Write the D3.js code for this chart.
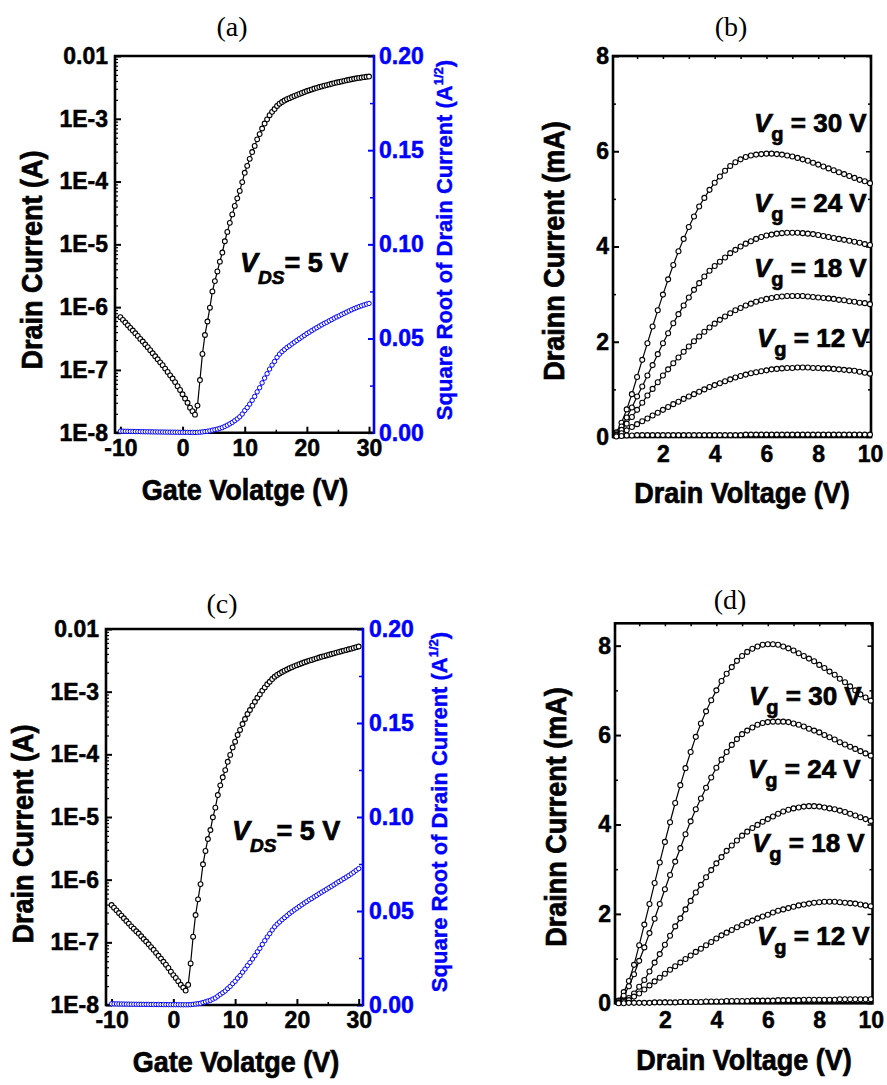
<!DOCTYPE html>
<meta charset="utf-8">
<style>
body { margin: 0; background: #fff; }
text { font-family: "Liberation Sans", Arial, sans-serif; font-weight: bold; white-space: pre; }
.ptitle { font-family: "Liberation Serif", "Times New Roman", serif; font-weight: normal; }
.heavy { stroke: currentColor; stroke-width: 0.7px; }
.tick text { stroke: currentColor; stroke-width: 0.5px; }
</style>
<body>
<script src="https://d3js.org/d3.v7.min.js"></script>
<script>

var width = 887, height = 1085;

// ---- transfer curves (a) and (c): gate sweep, drain current in A ----
var gateV = [-10, -9.6, -9.2, -8.8, -8.4, -8, -7.6, -7.2, -6.8, -6.4, -6, -5.6, -5.2, -4.8, -4.4, -4, -3.6, -3.2, -2.8, -2.4,
  -2, -1.6, -1.2, -0.8, -0.4, 0, 0.4, 0.8, 1.2, 1.6, 2, 2.4, 2.8, 3.2, 3.6, 4, 4.4, 4.8, 5.2, 5.6,
  6, 6.4, 6.8, 7.2, 7.6, 8, 8.4, 8.8, 9.2, 9.6, 10, 10.4, 10.8, 11.2, 11.6, 12, 12.4, 12.8, 13.2, 13.6,
  14, 14.4, 14.8, 15.2, 15.6, 16, 16.4, 16.8, 17.2, 17.6, 18, 18.4, 18.8, 19.2, 19.6, 20, 20.4, 20.8, 21.2, 21.6,
  22, 22.4, 22.8, 23.2, 23.6, 24, 24.4, 24.8, 25.2, 25.6, 26, 26.4, 26.8, 27.2, 27.6, 28, 28.4, 28.8, 29.2, 29.6, 30];

var idA = [6.92e-7, 6.27e-7, 5.68e-7, 5.15e-7, 4.67e-7, 4.24e-7, 3.84e-7, 3.48e-7, 3.12e-7, 2.83e-7,
  2.54e-7, 2.30e-7, 2.06e-7, 1.84e-7, 1.65e-7, 1.48e-7, 1.32e-7, 1.19e-7, 1.05e-7, 9.3e-8,
  8.2e-8, 7.3e-8, 6.4e-8, 5.5e-8, 4.8e-8, 4.1e-8, 3.5e-8, 3.0e-8, 2.5e-8, 2.2e-8, 1.94e-8,
  2.7e-8, 6.9e-8, 1.8e-7, 3.6e-7, 5.9e-7, 9.8e-7, 1.78e-6, 2.6e-6, 3.7e-6, 5.3e-6,
  7.4e-6, 1.12e-5, 1.58e-5, 2.2e-5, 3.0e-5, 4.1e-5, 5.4e-5, 7.1e-5, 9.8e-5, 1.38e-4,
  1.78e-4, 2.3e-4, 2.95e-4, 3.7e-4, 4.7e-4, 5.7e-4, 7.0e-4, 8.4e-4, 9.8e-4, 1.14e-3, 1.29e-3, 1.43e-3,
  1.60e-3, 1.74e-3, 1.85e-3, 1.95e-3, 2.05e-3, 2.13e-3, 2.22e-3, 2.31e-3, 2.40e-3, 2.49e-3,
  2.58e-3, 2.67e-3, 2.77e-3, 2.85e-3, 2.94e-3, 3.03e-3, 3.11e-3, 3.20e-3, 3.28e-3, 3.37e-3,
  3.44e-3, 3.53e-3, 3.61e-3, 3.70e-3, 3.78e-3, 3.85e-3, 3.94e-3, 4.02e-3, 4.10e-3, 4.18e-3,
  4.26e-3, 4.34e-3, 4.41e-3, 4.48e-3, 4.54e-3, 4.60e-3, 4.66e-3, 4.71e-3];

var idC = [3.94e-7, 3.57e-7, 3.24e-7, 2.94e-7, 2.67e-7, 2.42e-7, 2.19e-7, 1.99e-7, 1.80e-7, 1.65e-7,
  1.50e-7, 1.38e-7, 1.25e-7, 1.13e-7, 1.03e-7, 9.3e-8, 8.4e-8, 7.6e-8, 6.8e-8, 6.1e-8,
  5.5e-8, 4.9e-8, 4.4e-8, 3.9e-8, 3.4e-8, 3.0e-8, 2.7e-8, 2.4e-8, 2.1e-8, 1.9e-8, 1.7e-8,
  2.1e-8, 4.6e-8, 1.23e-7, 2.73e-7, 4.85e-7, 8.5e-7, 1.76e-6, 2.87e-6, 4.46e-6, 6.2e-6,
  9.9e-6, 1.41e-5, 2.24e-5, 3.2e-5, 4.3e-5, 5.6e-5, 7.6e-5, 9.8e-5, 1.29e-4, 1.59e-4,
  2.04e-4, 2.45e-4, 3.05e-4, 3.66e-4, 4.4e-4, 5.1e-4, 5.98e-4, 6.9e-4, 8.0e-4, 9.06e-4,
  1.04e-3, 1.17e-3, 1.31e-3, 1.44e-3, 1.59e-3, 1.73e-3,
  1.85e-3, 1.95e-3, 2.06e-3, 2.16e-3, 2.26e-3, 2.37e-3, 2.46e-3, 2.56e-3, 2.65e-3, 2.75e-3,
  2.84e-3, 2.94e-3, 3.03e-3, 3.13e-3, 3.21e-3, 3.31e-3, 3.40e-3, 3.50e-3, 3.60e-3, 3.69e-3,
  3.79e-3, 3.89e-3, 3.99e-3, 4.09e-3, 4.20e-3, 4.31e-3, 4.41e-3, 4.52e-3, 4.63e-3, 4.74e-3,
  4.86e-3, 4.99e-3, 5.13e-3, 5.26e-3];

// ---- output curves (b) and (d): drain sweep, drain current in mA ----
var drainV = [0.2, 0.4, 0.6, 0.8, 1, 1.2, 1.4, 1.6, 1.8, 2, 2.2, 2.4, 2.6, 2.8, 3, 3.2, 3.4, 3.6, 3.8, 4,
  4.2, 4.4, 4.6, 4.8, 5, 5.2, 5.4, 5.6, 5.8, 6, 6.2, 6.4, 6.6, 6.8, 7, 7.2, 7.4, 7.6, 7.8, 8,
  8.2, 8.4, 8.6, 8.8, 9, 9.2, 9.4, 9.6, 9.8, 10];

var idB30 = [0.10, 0.30, 0.58, 0.90, 1.26, 1.62, 1.97, 2.32, 2.66, 2.99, 3.31, 3.61, 3.90, 4.16, 4.41,
  4.63, 4.84, 5.02, 5.19, 5.34, 5.47, 5.59, 5.69, 5.77, 5.83, 5.88, 5.91, 5.93, 5.94, 5.95,
  5.95, 5.94, 5.93, 5.91, 5.89, 5.86, 5.83, 5.80, 5.76, 5.72, 5.68, 5.64, 5.60, 5.56, 5.52,
  5.48, 5.44, 5.40, 5.37, 5.33];
var idB24 = [0.08, 0.22, 0.41, 0.62, 0.85, 1.06, 1.29, 1.51, 1.74, 1.97, 2.18, 2.39, 2.58, 2.76, 2.93,
  3.09, 3.23, 3.37, 3.49, 3.59, 3.68, 3.77, 3.86, 3.93, 4.00, 4.06, 4.11, 4.16, 4.20, 4.23,
  4.25, 4.27, 4.28, 4.29, 4.29, 4.29, 4.28, 4.27, 4.26, 4.24, 4.22, 4.20, 4.18, 4.16, 4.14,
  4.12, 4.10, 4.08, 4.05, 4.03];
var idB18 = [0.05, 0.15, 0.28, 0.42, 0.57, 0.72, 0.87, 1.01, 1.15, 1.29, 1.42, 1.55, 1.67, 1.79, 1.90,
  2.01, 2.11, 2.21, 2.30, 2.38, 2.46, 2.53, 2.60, 2.66, 2.71, 2.76, 2.80, 2.84, 2.87, 2.90,
  2.92, 2.94, 2.95, 2.96, 2.96, 2.96, 2.96, 2.95, 2.94, 2.93, 2.92, 2.91, 2.90, 2.88, 2.87,
  2.85, 2.84, 2.82, 2.81, 2.79];
var idB12 = [0.03, 0.08, 0.14, 0.21, 0.27, 0.33, 0.39, 0.45, 0.51, 0.57, 0.63, 0.69, 0.74, 0.80, 0.85,
  0.90, 0.95, 1.00, 1.05, 1.09, 1.13, 1.17, 1.21, 1.25, 1.28, 1.31, 1.34, 1.36, 1.38, 1.40,
  1.42, 1.43, 1.44, 1.45, 1.45, 1.46, 1.46, 1.46, 1.45, 1.45, 1.44, 1.44, 1.43, 1.42, 1.41,
  1.40, 1.39, 1.37, 1.35, 1.33];
var idBlow = [0.01, 0.02, 0.03, 0.03, 0.04, 0.04, 0.04, 0.04, 0.04, 0.04, 0.04, 0.04, 0.04, 0.04, 0.04,
  0.04, 0.04, 0.04, 0.04, 0.04, 0.04, 0.04, 0.04, 0.04, 0.04, 0.05, 0.05, 0.05, 0.05, 0.05,
  0.05, 0.05, 0.05, 0.05, 0.05, 0.05, 0.05, 0.05, 0.05, 0.05, 0.05, 0.05, 0.05, 0.05, 0.05,
  0.05, 0.05, 0.05, 0.05, 0.05];

var idD30 = [0.06, 0.25, 0.50, 0.86, 1.30, 1.76, 2.22, 2.69, 3.15, 3.61, 4.05, 4.48, 4.88, 5.26, 5.62,
  5.96, 6.26, 6.53, 6.78, 7.00, 7.21, 7.37, 7.52, 7.66, 7.77, 7.86, 7.93, 7.98, 8.02, 8.03,
  8.03, 8.02, 7.98, 7.94, 7.89, 7.83, 7.77, 7.71, 7.65, 7.57, 7.50, 7.42, 7.35, 7.26, 7.18,
  7.09, 7.00, 6.91, 6.84, 6.77];
var idD24 = [0.05, 0.17, 0.38, 0.65, 0.95, 1.25, 1.57, 1.89, 2.22, 2.55, 2.87, 3.17, 3.47, 3.78, 4.07,
  4.34, 4.58, 4.82, 5.05, 5.27, 5.45, 5.62, 5.78, 5.91, 6.02, 6.10, 6.17, 6.23, 6.27, 6.29,
  6.30, 6.30, 6.30, 6.29, 6.26, 6.23, 6.19, 6.14, 6.10, 6.06, 6.00, 5.95, 5.90, 5.84, 5.79,
  5.74, 5.69, 5.64, 5.59, 5.54];
var idD18 = [0.02, 0.06, 0.12, 0.22, 0.37, 0.52, 0.71, 0.91, 1.10, 1.31, 1.51, 1.72, 1.90, 2.10, 2.29,
  2.48, 2.65, 2.82, 2.98, 3.13, 3.27, 3.41, 3.53, 3.64, 3.75, 3.84, 3.92, 3.99, 4.06, 4.12,
  4.18, 4.24, 4.29, 4.33, 4.36, 4.38, 4.40, 4.41, 4.41, 4.40, 4.38, 4.36, 4.34, 4.31, 4.28,
  4.24, 4.20, 4.16, 4.12, 4.08];
var idD12 = [0.01, 0.03, 0.07, 0.15, 0.22, 0.31, 0.40, 0.49, 0.57, 0.66, 0.75, 0.83, 0.91, 0.99, 1.07,
  1.15, 1.22, 1.30, 1.37, 1.45, 1.52, 1.58, 1.64, 1.70, 1.75, 1.81, 1.85, 1.90, 1.94, 1.98,
  2.03, 2.07, 2.10, 2.13, 2.16, 2.19, 2.21, 2.23, 2.25, 2.26, 2.27, 2.27, 2.27, 2.26, 2.25,
  2.24, 2.23, 2.21, 2.19, 2.17];
var idDlow = [0.00, 0.00, 0.01, 0.01, 0.01, 0.01, 0.01, 0.02, 0.02, 0.02, 0.02, 0.02, 0.03, 0.03, 0.03,
  0.03, 0.03, 0.04, 0.04, 0.04, 0.04, 0.05, 0.05, 0.05, 0.05, 0.05, 0.06, 0.06, 0.06, 0.06,
  0.06, 0.07, 0.07, 0.07, 0.07, 0.07, 0.08, 0.08, 0.08, 0.08, 0.08, 0.08, 0.08, 0.09, 0.09,
  0.09, 0.09, 0.09, 0.09, 0.09];

// ticks and labels
var logTicks = [1e-8, 1e-7, 1e-6, 1e-5, 1e-4, 1e-3, 1e-2];
var logTickLabels = ["1E-8", "1E-7", "1E-6", "1E-5", "1E-4", "1E-3", "0.01"];
var sqrtTicks = [0, 0.05, 0.1, 0.15, 0.2];
var sqrtMinor = [0.025, 0.075, 0.125, 0.175];
var sqrtTickLabels = ["0.00", "0.05", "0.10", "0.15", "0.20"];
var gateTicks = [-10, 0, 10, 20, 30];
var gateTickLabels = ["-10", "0", "10", "20", "30"];
var gateMinor = [-5, 5, 15, 25];
var drainTicks = [2, 4, 6, 8, 10];
var drainMinor = [1, 3, 5, 7, 9];
var currentTicks = [0, 2, 4, 6, 8];
var currentMinor = [1, 3, 5, 7];
var vgNames = ["30", "24", "18", "12"];

var BLUE = "#0000ff";
var FONT = '"Liberation Sans", Arial, sans-serif';

var svg = d3.select("body").append("svg")
    .attr("width", width)
    .attr("height", height);

svg.append("rect")
    .attr("width", width)
    .attr("height", height)
    .attr("fill", "#fff");

// squeeze text a bit, the original font is narrower than Arial
function squeeze(sel, k) {
  sel.each(function() {
    var w = this.getComputedTextLength();
    d3.select(this).attr("textLength", w * k).attr("lengthAdjust", "spacingAndGlyphs");
  });
}

function styleAxis(g, color, sw) {
  g.attr("font-size", 23).attr("font-family", FONT).attr("font-weight", "bold").attr("color", color);
  g.select(".domain").remove();
  g.selectAll(".tick line").attr("stroke-width", sw);
}

function addAxis(axis, tx, ty, color, sw) {
  var g = svg.append("g").attr("transform", "translate(" + tx + "," + ty + ")").call(axis);
  styleAxis(g, color, sw);
  return g;
}

function drawSeries(x, y, xs, ys, color, r, sw) {
  var pts = xs.map(function(v, i) { return [v, ys[i]]; });
  var line = d3.line()
    .x(function(d) { return x(d[0]); })
    .y(function(d) { return y(d[1]); });
  svg.append("path")
    .attr("d", line(pts))
    .attr("fill", "none")
    .attr("stroke", color)
    .attr("stroke-width", 1.2);
  svg.append("g")
    .selectAll("circle")
    .data(pts)
    .enter()
    .append("circle")
      .attr("cx", function(d) { return x(d[0]); })
      .attr("cy", function(d) { return y(d[1]); })
      .attr("r", r)
      .attr("fill", "#fff")
      .attr("stroke", color)
      .attr("stroke-width", sw);
}

function panelTitle(t) {
  svg.append("text")
    .attr("class", "ptitle")
    .attr("x", t.x).attr("y", t.y)
    .attr("text-anchor", "middle")
    .style("font-size", "28px")
    .text(t.text);
}

function axisTitle(pos, txt, rotate) {
  var t = svg.append("text")
    .attr("class", "heavy")
    .attr("transform", "translate(" + pos.x + "," + pos.y + ")" + (rotate ? " rotate(-90)" : ""))
    .attr("text-anchor", "middle")
    .style("font-size", "30px")
    .text(txt);
  squeeze(t, 0.9);
}

function transferPanel(p) {
  var x = d3.scaleLinear().domain(p.xDomain).range([p.x0, p.x1]);
  var y = d3.scaleLog().domain([1e-8, 1e-2]).range([p.y1, p.y0]);
  var y2 = d3.scaleLinear().domain([0, 0.2]).range([p.y1, p.y0]);
  var logMinor = y.ticks().filter(function(v) { return Math.abs(Math.log10(v) - Math.round(Math.log10(v))) > 1e-6; });

  // left log axis
  addAxis(d3.axisLeft(y).tickValues(logMinor).tickSize(-3).tickFormat(""), p.x0, 0, "#000", 1.2);
  addAxis(d3.axisLeft(y).tickValues(logTicks).tickSize(-6).tickPadding(p.leftPad)
    .tickFormat(function(d, i) { return logTickLabels[i]; }), p.x0, 0, "#000", 2);

  // bottom axis
  addAxis(d3.axisBottom(x).tickValues(gateMinor).tickSize(-3).tickFormat(""), 0, p.y1, "#000", 1.5);
  addAxis(d3.axisBottom(x).tickValues(gateTicks).tickSize(-6).tickPadding(p.bottomPad)
    .tickFormat(function(d, i) { return gateTickLabels[i]; }), 0, p.y1, "#000", 2);

  // right sqrt axis (blue)
  addAxis(d3.axisRight(y2).tickValues(sqrtMinor).tickSize(-4).tickFormat(""), p.x1, 0, BLUE, 1.5);
  addAxis(d3.axisRight(y2).tickValues(sqrtTicks).tickSize(-6).tickPadding(p.rightPad)
    .tickFormat(function(d, i) { return sqrtTickLabels[i]; }), p.x1, 0, BLUE, 2);

  // frame
  svg.append("path")
    .attr("d", "M" + p.x1 + "," + p.y0 + "H" + p.x0 + "V" + p.y1 + "H" + p.x1)
    .attr("fill", "none").attr("stroke", "#000").attr("stroke-width", 2.6);
  svg.append("line")
    .attr("x1", p.x1).attr("x2", p.x1).attr("y1", p.y0 - 1.3).attr("y2", p.y1 + 1.3)
    .attr("stroke", BLUE).attr("stroke-width", 2.6);

  // data: drain current (log) and its square root
  drawSeries(x, y, gateV, p.data, "#000", 2.4, 1.1);
  drawSeries(x, y2, gateV, p.data.map(Math.sqrt), BLUE, 2.2, 1);

  // labels
  panelTitle(p.title);
  axisTitle(p.yTitle, "Drain Current (A)", true);
  axisTitle(p.xTitle, "Gate Volatge (V)", false);

  var bt = svg.append("text")
    .attr("transform", "translate(" + p.y2Title.x + "," + p.y2Title.y + ") rotate(-90)")
    .attr("text-anchor", "middle")
    .attr("fill", BLUE)
    .attr("stroke", BLUE)
    .attr("stroke-width", 0.4)
    .style("font-size", "22px");
  bt.append("tspan").text("Square Root of Drain Current (A");
  bt.append("tspan").attr("dy", -9).style("font-size", "13px").text("1/2");
  bt.append("tspan").attr("dy", 9).text(")");

  var vt = svg.append("text")
    .attr("class", "heavy")
    .attr("x", p.vds.x).attr("y", p.vds.y)
    .style("font-size", "27px");
  vt.append("tspan").style("font-style", "italic").text("V");
  vt.append("tspan").attr("dy", 12).style("font-style", "italic").style("font-size", "19px").text("DS");
  vt.append("tspan").attr("dy", -12).text("= 5 V");
}

function outputPanel(p) {
  var x = d3.scaleLinear().domain(p.xDomain).range([p.x0, p.x1]);
  var y = d3.scaleLinear().domain(p.yDomain).range([p.y1, p.y0]);

  // left and right axes
  addAxis(d3.axisLeft(y).tickValues(currentMinor).tickSize(-3).tickFormat(""), p.x0, 0, "#000", 1.5);
  addAxis(d3.axisLeft(y).tickValues(currentTicks).tickSize(-6).tickPadding(p.leftPad), p.x0, 0, "#000", 2);
  addAxis(d3.axisRight(y).tickValues(currentMinor).tickSize(-3).tickFormat(""), p.x1, 0, "#000", 1.5);
  addAxis(d3.axisRight(y).tickValues(currentTicks).tickSize(-5).tickFormat(""), p.x1, 0, "#000", 1.5);

  // bottom and top axes
  addAxis(d3.axisBottom(x).tickValues(drainMinor).tickSize(-3).tickFormat(""), 0, p.y1, "#000", 1.5);
  addAxis(d3.axisBottom(x).tickValues(drainTicks).tickSize(-4).tickPadding(p.bottomPad), 0, p.y1, "#000", 2);
  addAxis(d3.axisTop(x).tickValues(drainMinor.concat(drainTicks)).tickSize(-3).tickFormat(""), 0, p.y0, "#000", 1.5);

  svg.append("rect")
    .attr("x", p.x0).attr("y", p.y0)
    .attr("width", p.x1 - p.x0).attr("height", p.y1 - p.y0)
    .attr("fill", "none").attr("stroke", "#000").attr("stroke-width", 2.6);

  p.series.forEach(function(s) { drawSeries(x, y, drainV, s, "#000", 2.5, 1.1); });

  panelTitle(p.title);
  axisTitle(p.yTitle, "Drainn Current (mA)", true);
  axisTitle(p.xTitle, "Drain Voltage (V)", false);

  p.vgPos.forEach(function(pos, i) {
    var t = svg.append("text")
      .attr("class", "heavy")
      .attr("x", pos[0]).attr("y", pos[1])
      .style("font-size", "26px");
    t.append("tspan").style("font-style", "italic").text("V");
    t.append("tspan").attr("dy", 9).style("font-size", "20px").text("g");
    t.append("tspan").attr("dy", -9).text(" = " + vgNames[i] + " V");
  });
}

transferPanel({
  data: idA, x0: 115, x1: 374, y0: 56, y1: 432.7, xDomain: [-10.87, 30.8],
  leftPad: 7, rightPad: 5, bottomPad: 7,
  title: {x: 232, y: 36, text: "(a)"},
  yTitle: {x: 42, y: 260}, xTitle: {x: 245, y: 500}, y2Title: {x: 452, y: 240},
  vds: {x: 240, y: 272}
});

transferPanel({
  data: idC, x0: 106, x1: 363, y0: 629, y1: 1005, xDomain: [-10.9, 30.7],
  leftPad: 7, rightPad: 6, bottomPad: 7,
  title: {x: 222, y: 613, text: "(c)"},
  yTitle: {x: 33, y: 834}, xTitle: {x: 236, y: 1072}, y2Title: {x: 447, y: 812},
  vds: {x: 232, y: 840}
});

outputPanel({
  series: [idB30, idB24, idB18, idB12, idBlow],
  x0: 613, x1: 871, y0: 56, y1: 437, xDomain: [0.07, 10.04], yDomain: [0, 8],
  leftPad: 4, bottomPad: 8.5,
  title: {x: 731, y: 36, text: "(b)"},
  yTitle: {x: 564, y: 251}, xTitle: {x: 742, y: 503},
  vgPos: [[754, 132], [754, 212], [754, 277], [757, 347]]
});

outputPanel({
  series: [idD30, idD24, idD18, idD12, idDlow],
  x0: 615, x1: 872.5, y0: 623.3, y1: 1003.3, xDomain: [0.06, 10.07], yDomain: [0, 8.5],
  leftPad: 4, bottomPad: 8.5,
  title: {x: 730, y: 609, text: "(d)"},
  yTitle: {x: 566, y: 817}, xTitle: {x: 744, y: 1070},
  vgPos: [[749, 705], [748, 778], [752, 852], [757, 945]]
});

</script>
</body>
